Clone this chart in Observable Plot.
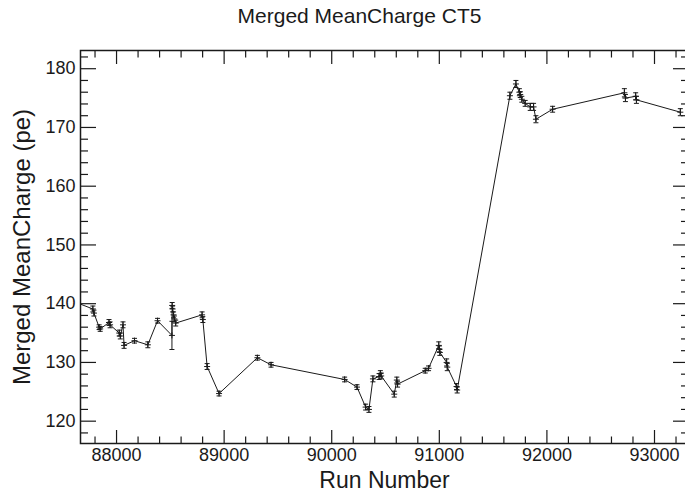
<!DOCTYPE html>
<html><head><meta charset="utf-8">
<script src="https://cdn.jsdelivr.net/npm/d3@7"></script>
<script src="https://cdn.jsdelivr.net/npm/@observablehq/plot@0.6"></script>
<style>html,body{margin:0;padding:0;background:#fff;} svg{display:block;}</style>
</head><body><div id="chart"></div>
<script>
const title = "Merged MeanCharge CT5";
const xLabel = "Run Number";
const yLabel = "Merged MeanCharge (pe)";

const runs = [87640, 87780, 87790, 87838, 87848, 87930, 87940, 88025, 88035, 88060, 88070, 88167, 88291, 88381,
  88515, 88517, 88521, 88530, 88537, 88550, 88795, 88802, 88842, 88953, 89309, 89436, 90120, 90235, 90315, 90346,
  90383, 90440, 90452, 90460, 90581, 90605, 90612, 90869, 90900, 90995, 91000, 91005, 91068, 91074, 91160, 91166,
  91656, 91712, 91744, 91752, 91767, 91798, 91845, 91876, 91898, 92053, 92720, 92730, 92825, 92832, 93240];
const values = [140.1, 139.1, 138.4, 136.0, 135.7, 136.8, 136.4, 135.0, 134.5, 136.4, 132.9, 133.7, 133.0, 137.1,
  134.6, 139.7, 139.1, 138.1, 137.4, 136.7, 138.1, 137.3, 129.3, 124.7, 130.8, 129.6, 127.1, 125.8, 122.4, 122.0,
  127.2, 127.6, 128.1, 127.7, 124.6, 127.0, 126.3, 128.6, 129.0, 132.9, 132.3, 131.7, 130.0, 129.2, 125.9, 125.3,
  175.4, 177.4, 176.0, 175.6, 174.8, 174.1, 173.5, 173.5, 171.4, 173.1, 175.9, 175.0, 175.3, 174.7, 172.6];
const errors = [0.4, 0.5, 0.5, 0.4, 0.4, 0.5, 0.5, 0.5, 0.5, 0.5, 0.5, 0.4, 0.5, 0.4,
  2.4, 0.5, 0.5, 0.5, 0.5, 0.5, 0.5, 0.5, 0.5, 0.4, 0.4, 0.4, 0.4, 0.4, 0.5, 0.5,
  0.5, 0.5, 0.5, 0.5, 0.5, 0.5, 0.5, 0.4, 0.4, 0.6, 0.5, 0.5, 0.6, 0.6, 0.5, 0.5,
  0.6, 0.6, 0.6, 0.5, 0.5, 0.5, 0.6, 0.6, 0.6, 0.5, 0.7, 0.6, 0.6, 0.6, 0.6];

const xMajorTicks = [88000, 89000, 90000, 91000, 92000, 93000];
const xTickLabels = ["88000", "89000", "90000", "91000", "92000", "93000"];
const yMajorTicks = [120, 130, 140, 150, 160, 170, 180];
const yTickLabels = ["120", "130", "140", "150", "160", "170", "180"];
const xMinorTicks = d3.range(87800, 93400, 200).filter(v => v % 1000 !== 0);
const yMinorTicks = d3.range(118, 184, 2).filter(v => v % 10 !== 0);

const data = runs.map((r, i) => ({run: r, v: values[i], lo: values[i] - errors[i], hi: values[i] + errors[i]}));

const plusSym = {draw(ctx, size) { const r = Math.sqrt(size / Math.PI); ctx.moveTo(-r, 0); ctx.lineTo(r, 0); ctx.moveTo(0, -r); ctx.lineTo(0, r); }};
const capSym = {draw(ctx, size) { const r = Math.sqrt(size / Math.PI); ctx.moveTo(-r, 0); ctx.lineTo(r, 0); }};

const font = "'Liberation Sans', Arial, Helvetica, sans-serif";
const ink = "#1a1a1a";

const chart = Plot.plot({
  width: 685, height: 495,
  marginLeft: 80, marginRight: -3, marginTop: 50, marginBottom: 52,
  style: {fontFamily: font, color: ink, background: "#fff"},
  x: {domain: [87665, 93316], axis: null},
  y: {domain: [116.2, 183.1], axis: null},
  marks: [
    Plot.frame({stroke: ink, strokeWidth: 1.5}),
    Plot.axisX(xMajorTicks, {anchor: "bottom", tickSize: -13, tickFormat: () => "", stroke: ink, strokeWidth: 1.2, label: null}),
    Plot.axisX(xMinorTicks, {anchor: "bottom", tickSize: -6.5, tickFormat: () => "", stroke: ink, strokeWidth: 1.2, label: null}),
    Plot.axisX(xMajorTicks, {anchor: "bottom", tickSize: 0, tickPadding: 5, tickFormat: (d, i) => xTickLabels[i], fontSize: 18, fill: ink, label: null}),
    Plot.axisX(xMajorTicks, {anchor: "top", tickSize: -13, tickFormat: () => "", stroke: ink, strokeWidth: 1.2, label: null}),
    Plot.axisX(xMinorTicks, {anchor: "top", tickSize: -6.5, tickFormat: () => "", stroke: ink, strokeWidth: 1.2, label: null}),
    Plot.axisY(yMajorTicks, {anchor: "left", tickSize: -16, tickFormat: () => "", stroke: ink, strokeWidth: 1.2, label: null}),
    Plot.axisY(yMinorTicks, {anchor: "left", tickSize: -8, tickFormat: () => "", stroke: ink, strokeWidth: 1.2, label: null}),
    Plot.axisY(yMajorTicks, {anchor: "left", tickSize: 0, tickPadding: 5, tickFormat: (d, i) => yTickLabels[i], fontSize: 18, fill: ink, label: null}),
    Plot.axisY(yMajorTicks, {anchor: "right", tickSize: -16, tickFormat: () => "", stroke: ink, strokeWidth: 1.2, label: null}),
    Plot.axisY(yMinorTicks, {anchor: "right", tickSize: -8, tickFormat: () => "", stroke: ink, strokeWidth: 1.2, label: null}),
    Plot.line(data, {x: "run", y: "v", stroke: ink, strokeWidth: 1, clip: true}),
    Plot.ruleX(data, {x: "run", y1: "lo", y2: "hi", stroke: ink, strokeWidth: 1, clip: true}),
    Plot.dot(data, {x: "run", y: "lo", symbol: capSym, r: 2.5, stroke: ink, strokeWidth: 1, clip: true}),
    Plot.dot(data, {x: "run", y: "hi", symbol: capSym, r: 2.5, stroke: ink, strokeWidth: 1, clip: true}),
    Plot.dot(data, {x: "run", y: "v", symbol: plusSym, r: 3, stroke: ink, strokeWidth: 1, clip: true}),
    Plot.text([title], {frameAnchor: "top", lineAnchor: "middle", dy: -34, dx: -25, fontSize: 21, fill: ink}),
    Plot.text([xLabel], {frameAnchor: "bottom", lineAnchor: "middle", dy: 37, fontSize: 23, fill: ink}),
    Plot.text([yLabel], {frameAnchor: "left", textAnchor: "middle", lineAnchor: "middle", dx: -58, rotate: -90, fontSize: 24, fill: ink})
  ]
});
document.getElementById("chart").appendChild(chart);
</script>
</body></html>
